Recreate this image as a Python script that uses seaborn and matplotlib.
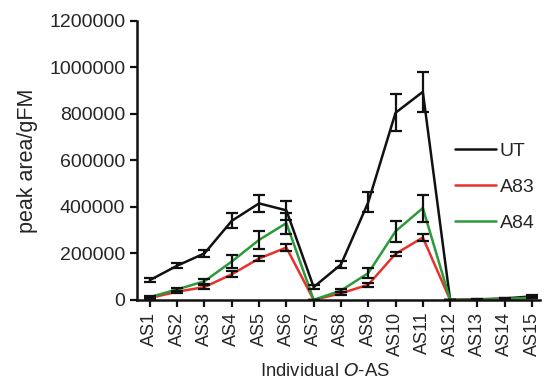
import numpy as np
import pandas as pd
import matplotlib
matplotlib.use("Agg")
import matplotlib.pyplot as plt
import seaborn as sns

# values
labels = ["AS%d" % i for i in range(1, 16)]
ut = [85000, 147000, 200000, 340000, 415000, 385000, 55000, 152000, 420000,
      805000, 895000, 0, 2000, 6000, 15000]
ut_err = [10000, 12000, 15000, 32000, 38000, 40000, 8000, 14000, 42000,
          80000, 85000, 0, 0, 0, 4000]
a83 = [8000, 35000, 55000, 110000, 178000, 225000, 0, 28000, 65000,
       198000, 268000, 0, 0, 2000, 8000]
a83_err = [3000, 5000, 8000, 12000, 12000, 14000, 0, 6000, 8000,
           8000, 15000, 0, 0, 0, 2000]
a84 = [12000, 45000, 80000, 165000, 258000, 330000, 0, 40000, 115000,
       295000, 395000, 0, 0, 3000, 10000]
a84_err = [3000, 6000, 10000, 28000, 38000, 45000, 0, 8000, 20000,
           45000, 58000, 0, 0, 0, 2000]
groups = ["UT", "A83", "A84"]
colors = ["#111111", "#e8312b", "#2a9a3a"]

df = pd.DataFrame({
    "pos": list(range(15)) * 3,
    "value": ut + a83 + a84,
    "err": ut_err + a83_err + a84_err,
    "group": [g for g in groups for _ in range(15)],
})

sns.set_style("ticks")
plt.rcParams["font.family"] = ["Liberation Sans", "DejaVu Sans"]

fig = plt.figure(figsize=(5.44, 3.81), dpi=100)
ax = fig.add_axes([0.252, 0.213, 0.741, 0.732])

sns.lineplot(data=df, x="pos", y="value", hue="group", palette=colors,
             hue_order=groups, linewidth=1.8, ax=ax, legend=False)

# error bars (black for every series)
for g in groups:
    sub = df[df["group"] == g]
    ax.errorbar(sub["pos"], sub["value"], yerr=sub["err"], fmt="none",
                ecolor="#111111", elinewidth=1.6, capsize=4, capthick=1.6,
                zorder=5)

ax.set_xlim(-0.47, 14.3)
ax.set_ylim(0, 1200000)
ax.set_yticks(np.arange(0, 1200001, 200000))
ax.set_yticklabels([str(v) for v in range(0, 1200001, 200000)], fontsize=14)
ax.set_xticks(range(15))
ax.set_xticklabels(labels, rotation=90, fontsize=13)
ax.tick_params(axis="both", width=1.6, length=5, color="#111111")
for s in ["left", "bottom"]:
    ax.spines[s].set_linewidth(1.8)
    ax.spines[s].set_color("#111111")
sns.despine(ax=ax)

ax.set_ylabel("peak area/gFM", fontsize=15.5)
ax.yaxis.set_label_coords(-0.245, 0.5)
ax.set_xlabel("Individual $\\mathit{O}$-AS", fontsize=13.3)
ax.xaxis.set_label_coords(0.465, -0.225)

handles = [plt.Line2D([], [], color=c, linewidth=1.8) for c in colors]
fig.legend(handles, groups, loc="upper left", bbox_to_anchor=(0.836, 0.627),
           frameon=False, fontsize=14, handlelength=2.1, labelspacing=0.95,
           handletextpad=0.2, borderpad=0, borderaxespad=0)

fig.savefig("out.png", dpi=100)
